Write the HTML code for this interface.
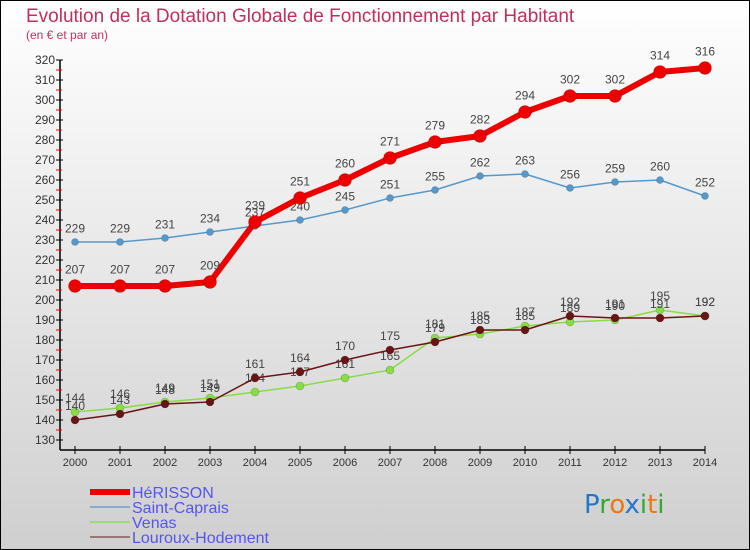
<!DOCTYPE html>
<html><head><meta charset="utf-8"><style>
body{margin:0;}
#wrap{position:relative;width:750px;height:550px;overflow:hidden;background:linear-gradient(#ffffff,#cfcfcf);font-family:"Liberation Sans",sans-serif;}
svg{position:absolute;left:0;top:0;}
</style></head><body>
<div id="wrap">
<svg id="c" width="750" height="550"></svg>
</div>
<script>
const years=[2000,2001,2002,2003,2004,2005,2006,2007,2008,2009,2010,2011,2012,2013,2014];
const herisson=[207,207,207,209,239,251,260,271,279,282,294,302,302,314,316];
const saintCaprais=[229,229,231,234,237,240,245,251,255,262,263,256,259,260,252];
const venas=[144,146,149,151,154,157,161,165,181,183,187,189,190,195,192];
const louroux=[140,143,148,149,161,164,170,175,179,185,185,192,191,191,192];
const yTicks=[130,140,150,160,170,180,190,200,210,220,230,240,250,260,270,280,290,300,310,320];
const NS="http://www.w3.org/2000/svg";
const svg=document.getElementById('c');
function X(i){return 75+i*45;}
function Y(v){return 440-(v-130)*2;}
function mk(t,a,p){const e=document.createElementNS(NS,t);for(const k in a)e.setAttribute(k,a[k]);(p||svg).appendChild(e);return e;}
let b=mk('rect',{x:0.5,y:0.5,width:749,height:549,fill:'none',stroke:'#000'});


let t=mk('text',{x:26,y:22,'font-size':19,fill:'#c0305a'});t.textContent='Evolution de la Dotation Globale de Fonctionnement par Habitant';


t=mk('text',{x:26,y:39,'font-size':12,fill:'#c0305a'});t.textContent='(en € et par an)';


let ax=mk('line',{x1:60,y1:60,x2:60,y2:450,stroke:'#000','stroke-width':1.5});


ax=mk('line',{x1:60,y1:450,x2:705,y2:450,stroke:'#000','stroke-width':1.5});


yTicks.forEach(v=>{
  mk('line',{x1:56,y1:Y(v),x2:63,y2:Y(v),stroke:'#000'});
  if(v<320)mk('line',{x1:56,y1:Y(v+5),x2:62,y2:Y(v+5),stroke:'#e00'});
  const l=mk('text',{x:55,y:Y(v)+4,'font-size':12,fill:'#333','text-anchor':'end'});l.textContent=v;
  
  
});
years.forEach((yr,i)=>{
  mk('line',{x1:X(i),y1:446,x2:X(i),y2:454,stroke:'#000'});
  const l=mk('text',{x:X(i),y:466,'font-size':11,fill:'#333','text-anchor':'middle'});l.textContent=yr;
  
  
});
function series(data,color,lw,r,name){
  const g=mk('g',{});
  
  
  mk('polyline',{points:data.map((v,i)=>X(i)+','+Y(v)).join(' '),fill:'none',stroke:color,'stroke-width':lw,'stroke-linejoin':'round'},g);
  data.forEach((v,i)=>{
    const c=mk('circle',{cx:X(i),cy:Y(v),r:r,fill:color,stroke:'rgba(0,0,0,0.25)','stroke-width':0.6},g);
    
    
    const l=mk('text',{x:X(i),y:Y(v)-(r+6),'font-size':12,fill:'#444','text-anchor':'middle'},g);l.textContent=v;
    
    
  });
}
series(venas,'#88dd44',1.5,4,'series-venas');
series(louroux,'#6a1515',1.5,4,'series-louroux-hodement');
series(saintCaprais,'#5599cc',1.5,3.5,'series-saint-caprais');
series(herisson,'#ee0000',6,6.5,'series-herisson');
const leg=[['HéRISSON','#ee0000',6],['Saint-Caprais','#88aacc',2],['Venas','#99dd77',2],['Louroux-Hodement','#997777',2]];
leg.forEach((e,i)=>{
  const y=492+i*15;
  const g=mk('g',{});
  
  
  mk('line',{x1:90,y1:y,x2:130,y2:y,stroke:e[1],'stroke-width':e[2]},g);
  const l=mk('text',{x:132,y:y+6,'font-size':16,fill:'#5555ee'},g);l.textContent=e[0];
});
const lg=mk('text',{x:584,y:513,'font-size':26,'font-family':'"DejaVu Sans",sans-serif'});


[['P','#2277cc'],['r','#33aa33'],['o','#ee7711'],['x','#2277cc'],['i','#33aa33'],['t','#ee7711'],['i','#33aa33']].forEach(p=>{const s=mk('tspan',{fill:p[1]},lg);s.textContent=p[0];});
</script>
</body></html>
